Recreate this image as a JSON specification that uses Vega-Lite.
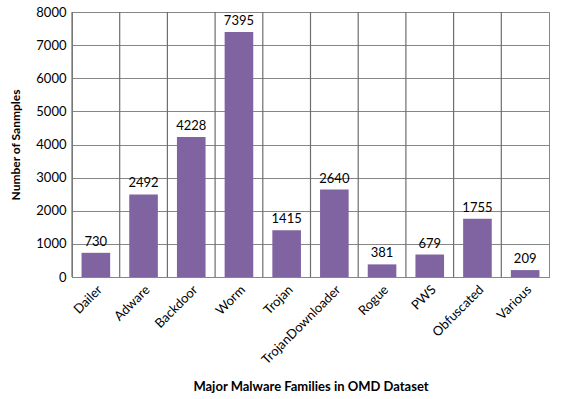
{
  "$schema": "https://vega.github.io/schema/vega-lite/v6.json",
  "autosize": "none",
  "padding": {"left": 72, "top": 12, "right": 20, "bottom": 122},
  "width": 477,
  "height": 265,
  "background": "white",
  "config": {
    "view": {"stroke": "#868686", "strokeWidth": 1},
    "font": "Lato"
  },
  "data": {
    "values": [
      {"family": "Dailer", "samples": 730},
      {"family": "Adware", "samples": 2492},
      {"family": "Backdoor", "samples": 4228},
      {"family": "Worm", "samples": 7395},
      {"family": "Trojan", "samples": 1415},
      {"family": "TrojanDownloader", "samples": 2640},
      {"family": "Rogue", "samples": 381},
      {"family": "PWS", "samples": 679},
      {"family": "Obfuscated", "samples": 1755},
      {"family": "Various", "samples": 209}
    ]
  },
  "encoding": {
    "x": {
      "field": "family", "type": "nominal", "sort": null,
      "scale": {"paddingInner": 0, "paddingOuter": 0},
      "axis": {
        "title": "Major  Malware Families in OMD Dataset",
        "titleFont": "Lato", "titleFontSize": 13, "titleFontWeight": "bold", "titleColor": "black",
        "titleY": 103,
        "labelAngle": -45, "labelFontSize": 13, "labelColor": "black", "labelPadding": 6,
        "ticks": false, "domainColor": "#868686", "grid": false
      }
    }
  },
  "layer": [
    {"mark": {"type": "rule", "color": "#6e6e6e", "strokeWidth": 1.2},
     "encoding": {"x": {"field": "family", "type": "nominal", "sort": null, "bandPosition": 0}}},
    {"mark": {"type": "bar", "color": "#8064A2", "width": {"band": 0.6}},
     "encoding": {
       "y": {
         "field": "samples", "type": "quantitative",
         "scale": {"domain": [0, 8000]},
         "axis": {
           "title": "Number of Sanmples",
           "titleFont": "Lato", "titleFontSize": 12, "titleFontWeight": "bold", "titleColor": "black",
           "titleX": -50,
           "format": "d",
           "values": [0, 1000, 2000, 3000, 4000, 5000, 6000, 7000, 8000],
           "labelFontSize": 13, "labelColor": "black", "labelPadding": 6,
           "ticks": false, "domainColor": "#868686",
           "grid": true, "gridColor": "#868686", "gridOpacity": 1
         }
       }
     }},
    {"mark": {"type": "text", "dy": -11, "fontSize": 13, "color": "black"},
     "encoding": {
       "y": {
         "field": "samples", "type": "quantitative",
         "scale": {"domain": [0, 8000]},
         "axis": {
           "title": "Number of Sanmples",
           "titleFont": "Lato", "titleFontSize": 12, "titleFontWeight": "bold", "titleColor": "black",
           "titleX": -50,
           "format": "d",
           "values": [0, 1000, 2000, 3000, 4000, 5000, 6000, 7000, 8000],
           "labelFontSize": 13, "labelColor": "black", "labelPadding": 6,
           "ticks": false, "domainColor": "#868686",
           "grid": true, "gridColor": "#868686", "gridOpacity": 1
         }
       },
       "text": {"field": "samples", "type": "quantitative"}
     }}
  ]
}
